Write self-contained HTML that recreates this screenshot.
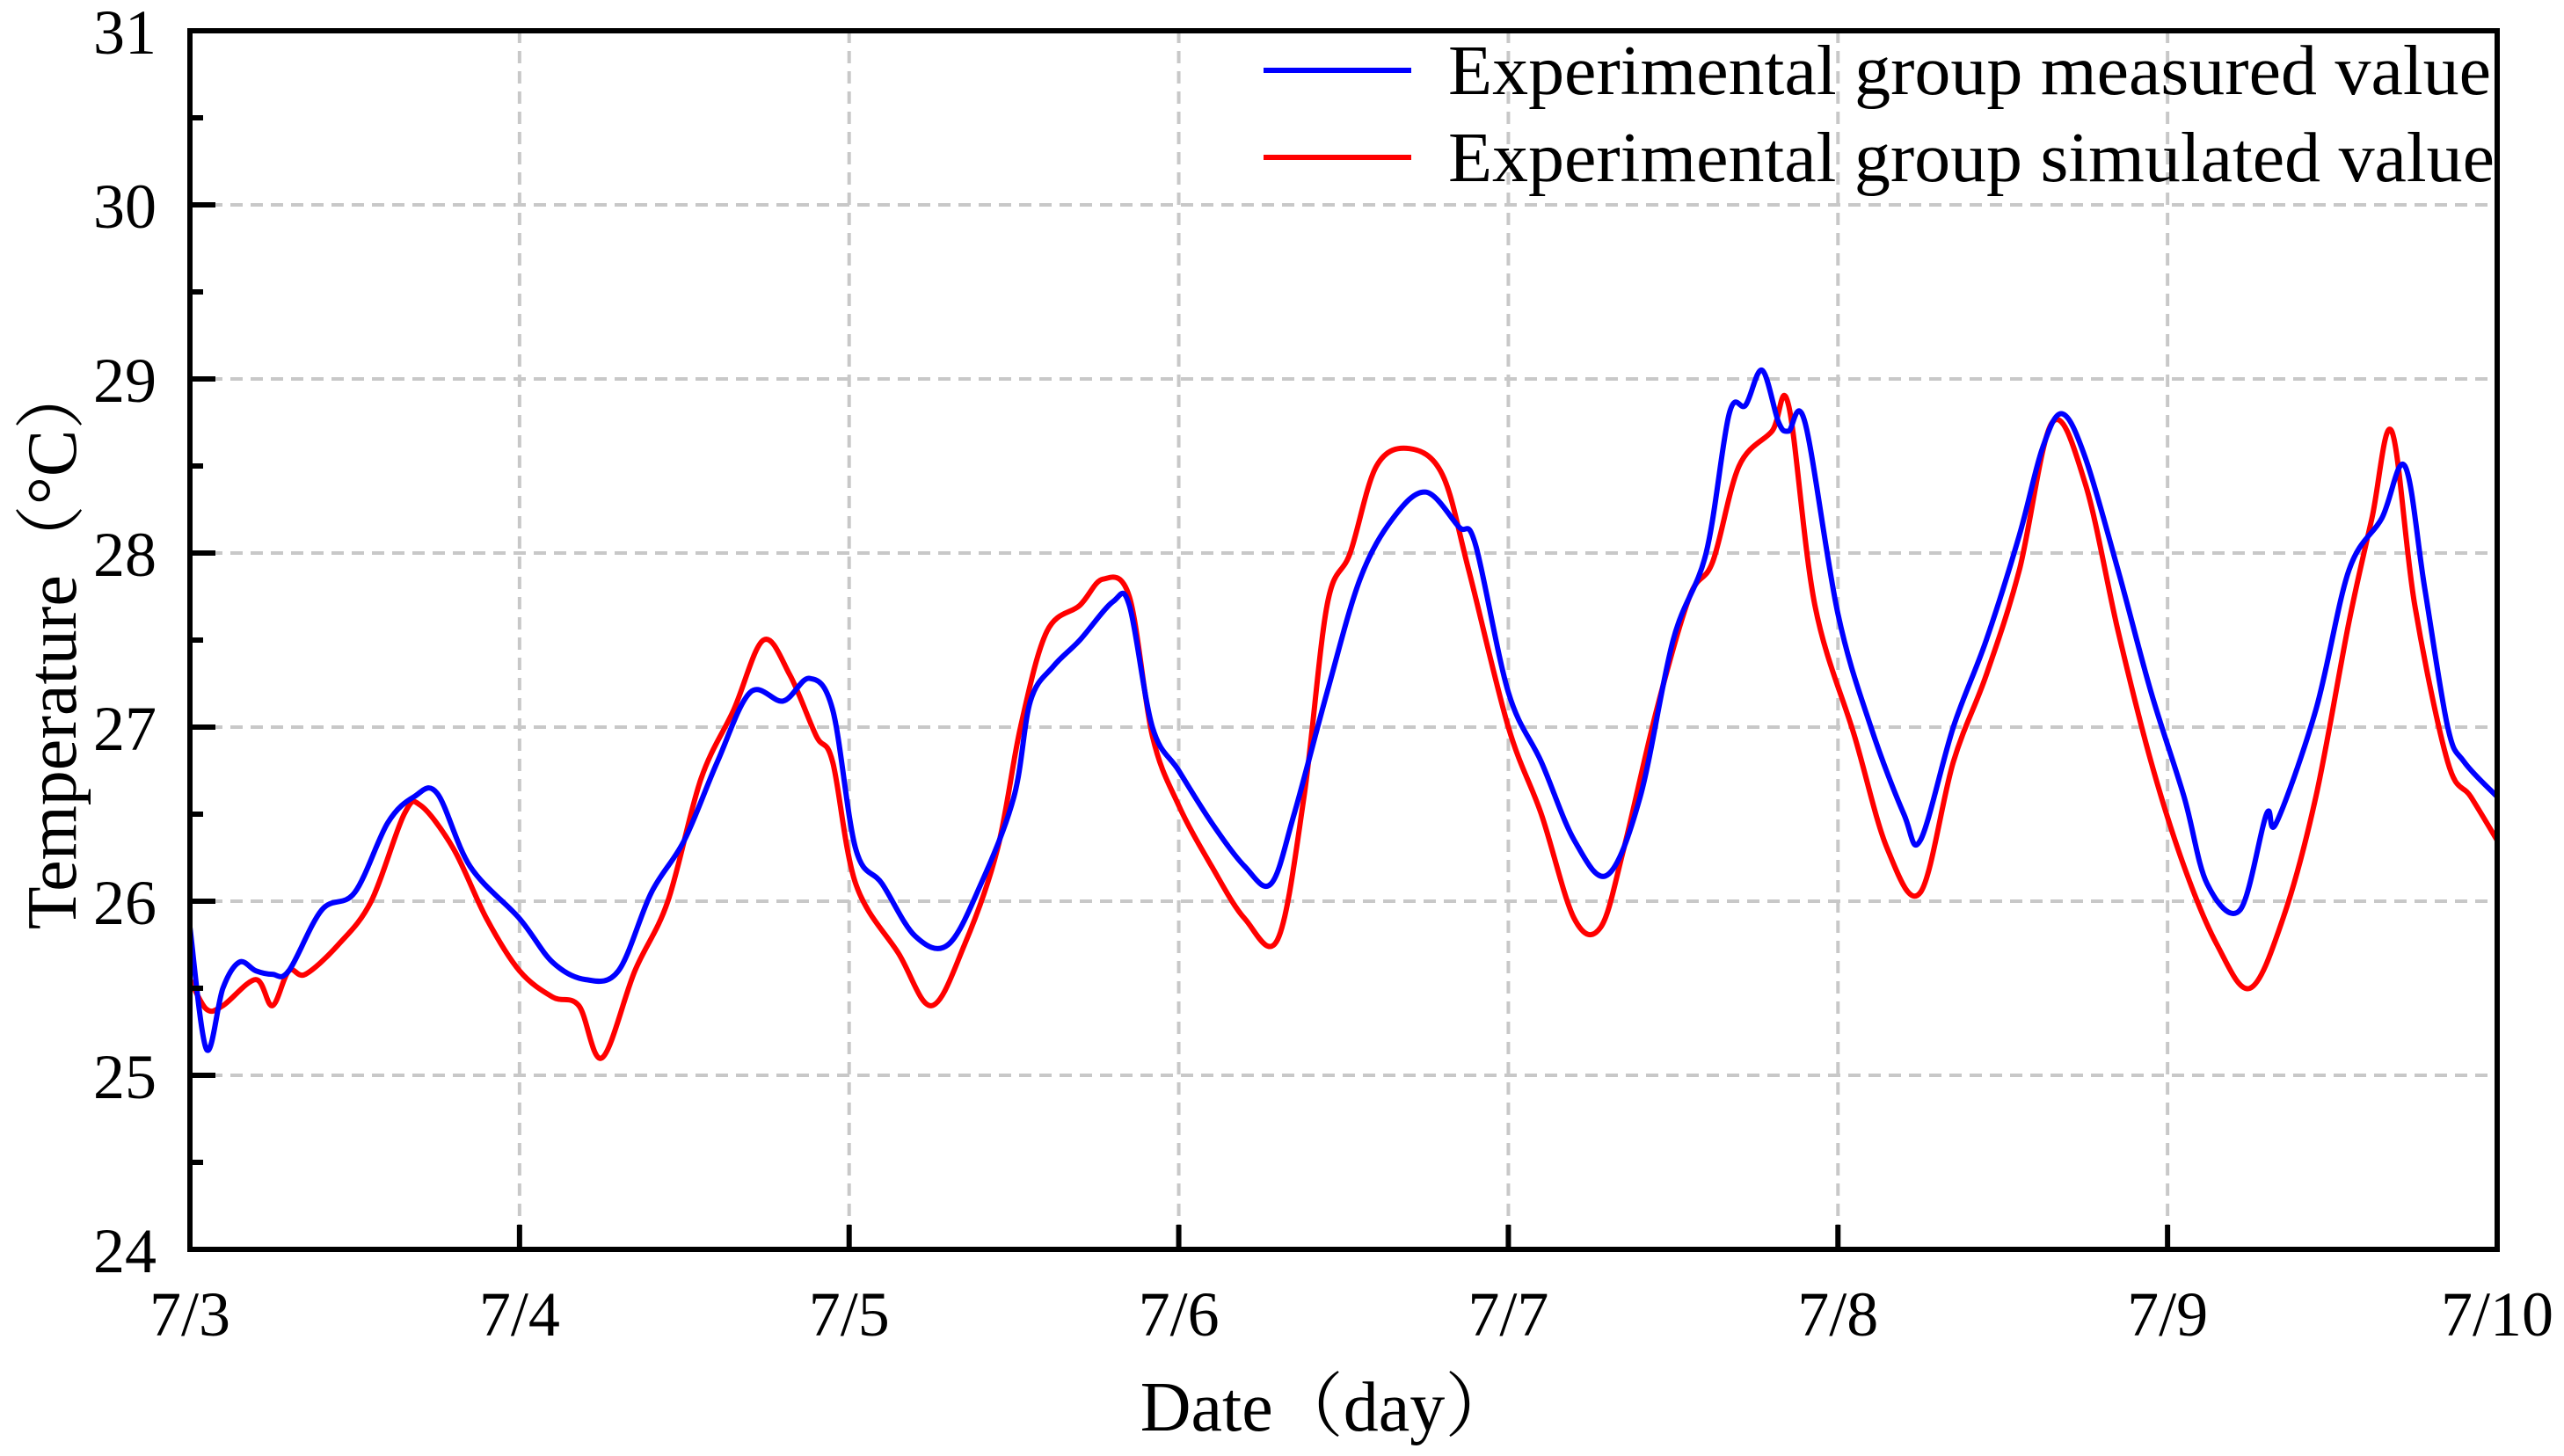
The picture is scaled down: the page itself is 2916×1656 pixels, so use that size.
<!DOCTYPE html>
<html><head><meta charset="utf-8">
<style>
html,body{margin:0;padding:0;background:#fff;}
svg{display:block;}
text{font-family:"Liberation Serif","Noto Serif CJK SC",serif;fill:#000;}
</style></head>
<body>
<svg id="chart" width="2916" height="1656" viewBox="0 0 2916 1656" xmlns="http://www.w3.org/2000/svg">
<g id="grid"></g>
<g id="series"></g>
<g id="axes"></g>
<g>
<line x1="1437" y1="80" x2="1605" y2="80" stroke="#0000ff" stroke-width="6"/>
<text x="1647" y="107" font-size="80" textLength="1186" lengthAdjust="spacingAndGlyphs">Experimental group measured value</text>
<line x1="1437" y1="179" x2="1605" y2="179" stroke="#ff0000" stroke-width="6"/>
<text x="1647" y="206" font-size="80" textLength="1190" lengthAdjust="spacingAndGlyphs">Experimental group simulated value</text>
</g>
<text x="1510" y="1627" font-size="80" text-anchor="middle">Date（day）</text>
<text transform="translate(86,733) rotate(-90)" font-size="80" text-anchor="middle">Temperature（°C）</text>
</svg>
<script>
const xTickLabels = ["7/3","7/4","7/5","7/6","7/7","7/8","7/9","7/10"];
const yTickLabels = [24,25,26,27,28,29,30,31];
const measuredT = [0,0.05,0.1,0.15,0.2,0.25,0.3,0.4,0.5,0.6,0.68,0.75,0.85,1.0,1.1,1.2,1.3,1.4,1.5,1.6,1.7,1.8,1.88,1.95,2.02,2.1,2.2,2.3,2.4,2.5,2.55,2.62,2.7,2.8,2.85,2.92,3.0,3.1,3.2,3.28,3.35,3.45,3.55,3.65,3.75,3.85,3.9,4.0,4.1,4.2,4.3,4.4,4.5,4.6,4.67,4.72,4.77,4.82,4.85,4.9,5.0,5.1,5.2,5.25,5.35,5.45,5.55,5.62,5.68,5.75,5.85,5.95,6.05,6.12,6.22,6.3,6.33,6.45,6.55,6.65,6.72,6.78,6.85,6.9,7.0];
const measuredV = [25.85,25.15,25.5,25.65,25.6,25.58,25.6,25.95,26.05,26.45,26.6,26.62,26.2,25.9,25.65,25.55,25.6,26.05,26.35,26.8,27.2,27.15,27.28,27.1,26.3,26.1,25.8,25.75,26.1,26.6,27.15,27.35,27.5,27.72,27.7,27.0,26.75,26.45,26.2,26.1,26.5,27.2,27.85,28.2,28.35,28.15,28.05,27.2,26.8,26.35,26.15,26.6,27.5,28.0,28.8,28.85,29.05,28.75,28.7,28.75,27.65,27.0,26.5,26.35,27.0,27.5,28.1,28.6,28.8,28.55,27.9,27.2,26.6,26.1,25.95,26.5,26.45,27.1,27.9,28.2,28.5,27.8,27.0,26.8,26.6];
const simulatedT = [0,0.05,0.1,0.2,0.25,0.3,0.35,0.45,0.55,0.65,0.7,0.8,0.9,1.0,1.1,1.18,1.25,1.35,1.45,1.55,1.65,1.74,1.82,1.9,1.95,2.02,2.15,2.25,2.35,2.45,2.52,2.6,2.7,2.77,2.85,2.92,3.0,3.1,3.2,3.3,3.38,3.45,3.52,3.6,3.7,3.8,3.88,4.0,4.1,4.2,4.28,4.35,4.45,4.55,4.62,4.7,4.8,4.85,4.93,5.05,5.15,5.25,5.35,5.45,5.55,5.65,5.75,5.85,5.95,6.05,6.15,6.25,6.35,6.45,6.55,6.62,6.68,6.75,6.85,6.92,7.0];
const simulatedV = [25.55,25.38,25.4,25.55,25.4,25.6,25.58,25.75,26.0,26.5,26.55,26.3,25.9,25.6,25.45,25.4,25.1,25.6,26.0,26.7,27.1,27.5,27.3,26.95,26.8,26.1,25.7,25.4,25.75,26.3,27.0,27.55,27.7,27.85,27.75,26.95,26.55,26.2,25.9,25.78,26.6,27.7,28.0,28.5,28.6,28.45,27.9,27.0,26.5,25.9,25.85,26.3,27.1,27.75,27.95,28.5,28.7,28.85,27.7,26.95,26.3,26.05,26.8,27.3,27.9,28.75,28.4,27.55,26.8,26.2,25.75,25.5,25.9,26.6,27.6,28.2,28.7,27.7,26.8,26.6,26.35];

const L=216,R=2840,T=35,B=1421,NS="http://www.w3.org/2000/svg";
const xs=t=>L+(R-L)*t/7;
const ys=v=>B-(B-T)*(v-24)/7;
function mk(tag,attrs,parent){const e=document.createElementNS(NS,tag);for(const k in attrs)e.setAttribute(k,attrs[k]);parent.appendChild(e);return e;}
const grid=document.getElementById('grid'),axes=document.getElementById('axes'),series=document.getElementById('series');
xTickLabels.forEach((lab,i)=>{
  const x=xs(i);
  if(i>0&&i<7){const g=mk('line',{x1:x,y1:T,x2:x,y2:B,stroke:'#c8c8c8','stroke-width':4,'stroke-dasharray':'14 9'},grid);
  
  }
  const tk=mk('line',{x1:x,y1:B,x2:x,y2:B-28,stroke:'#000','stroke-width':6},axes);
  
  
  const tx=mk('text',{x:x,y:B+98,'font-size':72,'text-anchor':'middle'},axes);tx.textContent=lab;
  
  
});
yTickLabels.forEach((v,i)=>{
  const y=ys(v);
  if(v>24&&v<31){const g=mk('line',{x1:L,y1:y,x2:R,y2:y,stroke:'#c8c8c8','stroke-width':4,'stroke-dasharray':'14 9'},grid);
  
  }
  const tk=mk('line',{x1:L,y1:y,x2:L+29,y2:y,stroke:'#000','stroke-width':6},axes);
  
  
  if(v<31){const m=mk('line',{x1:L,y1:ys(v+0.5),x2:L+15,y2:ys(v+0.5),stroke:'#000','stroke-width':6},axes);
  
  }
  const tx=mk('text',{x:178,y:y+26,'font-size':72,'text-anchor':'end'},axes);tx.textContent=v;
  
  
});
const fr=mk('rect',{x:L,y:T,width:R-L,height:B-T,fill:'none',stroke:'#000','stroke-width':6},axes);


function pathD(ts,vs){
  const p=ts.map((t,i)=>[xs(t),ys(vs[i])]);
  let d='M'+p[0][0]+','+p[0][1];
  for(let i=0;i<p.length-1;i++){
    const p0=p[Math.max(0,i-1)],p1=p[i],p2=p[i+1],p3=p[Math.min(p.length-1,i+2)];
    const c1x=p1[0]+(p2[0]-p0[0])/6,c1y=p1[1]+(p2[1]-p0[1])/6;
    const c2x=p2[0]-(p3[0]-p1[0])/6,c2y=p2[1]-(p3[1]-p1[1])/6;
    d+=' C'+c1x+','+c1y+' '+c2x+','+c2y+' '+p2[0]+','+p2[1];
  }
  return d;
}
const red=mk('path',{d:pathD(simulatedT,simulatedV),fill:'none',stroke:'#ff0000','stroke-width':6,'stroke-linejoin':'round'},series);


const blue=mk('path',{d:pathD(measuredT,measuredV),fill:'none',stroke:'#0000ff','stroke-width':6,'stroke-linejoin':'round'},series);


</script>
</body></html>
